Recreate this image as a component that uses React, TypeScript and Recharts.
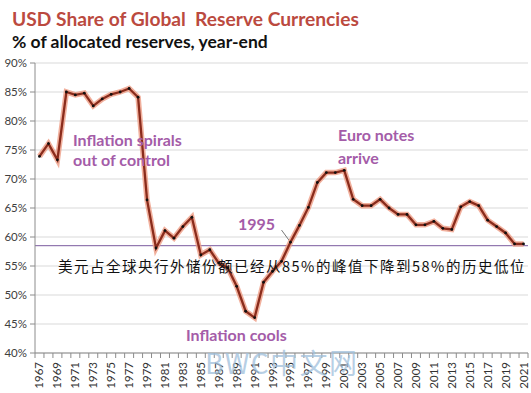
import { LineChart, Line, XAxis, YAxis, CartesianGrid, ReferenceLine } from 'recharts';

// year-end categories
const years = [
  '1967', '1968', '1969', '1970', '1971', '1972', '1973', '1974', '1975', '1976', '1977',
  '1978', '1979', '1980', '1981', '1982', '1983', '1984', '1985', '1986', '1987', '1988',
  '1989', '1990', '1991', '1992', '1993', '1994', '1995', '1996', '1997', '1998', '1999',
  '2000', '2001', '2002', '2003', '2004', '2005', '2006', '2007', '2008', '2009', '2010',
  '2011', '2012', '2013', '2014', '2015', '2016', '2017', '2018', '2019', '2020', '2021',
];

// USD share of allocated reserves, %
const usdShare = [
  73.9, 76.1, 73.3, 85.0, 84.5, 84.8, 82.6, 83.8, 84.6, 85.0, 85.6,
  84.1, 66.4, 58.1, 61.1, 59.8, 61.8, 63.4, 56.9, 57.8, 55.5, 54.7,
  51.5, 47.2, 46.1, 52.2, 54.1, 55.8, 59.1, 62.0, 65.1, 69.4, 71.1,
  71.1, 71.5, 66.5, 65.4, 65.4, 66.5, 65.0, 63.9, 63.9, 62.1, 62.1,
  62.7, 61.5, 61.3, 65.2, 66.1, 65.4, 62.9, 61.8, 60.7, 58.8, 58.8,
];

const yTicks = [40, 45, 50, 55, 60, 65, 70, 75, 80, 85, 90];
const historicLow = 58.5;

const data = years.map((year, i) => ({ year, share: usdShare[i] }));

const purple = '#a45ca8';

function YearTick(props: any) {
  const { x, y, payload, index } = props;
  const half = 4.48;
  const ty = y + 9;
  return (
    <g>
      <line x1={x - half} x2={x - half} y1={y} y2={y + 5} stroke="#8c8c8c" />
      {index === years.length - 1 && (
        <line x1={x + half} x2={x + half} y1={y} y2={y + 5} stroke="#8c8c8c" />
      )}
      {index % 2 === 0 && (
        <text
          x={x}
          y={ty}
          transform={`rotate(-90 ${x} ${ty})`}
          textAnchor="end"
          dy="0.35em"
          fontSize={11.5}
          fontFamily="Lato"
          fill="#333"
        >
          {payload.value}
        </text>
      )}
    </g>
  );
}

export default function App() {
  return (
    <div
      style={{
        position: 'absolute',
        left: 0,
        top: 0,
        width: 531,
        height: 393,
        background: '#fff',
        fontFamily: 'Lato',
      }}
    >
      <LineChart width={531} height={393} data={data} margin={{ top: 63, right: 3, left: 0, bottom: 0 }}>
        <CartesianGrid vertical={false} stroke="#d9d9d9" />
        <XAxis
          dataKey="year"
          interval={0}
          height={40}
          padding={{ left: 4.48, right: 4.48 }}
          tickLine={false}
          tickSize={0}
          tickMargin={0}
          stroke="#8c8c8c"
          tick={<YearTick />}
        />
        <YAxis
          domain={[40, 90]}
          ticks={yTicks}
          width={35}
          tickSize={5}
          tickMargin={3}
          stroke="#8c8c8c"
          tick={{ fontSize: 11.5, fill: '#404040', fontFamily: 'Lato' }}
          tickFormatter={(v: number) => `${v}%`}
        />
        <ReferenceLine y={historicLow} stroke="#7b5b9e" strokeWidth={1} />
        <ReferenceLine
          segment={[
            { x: '1994', y: 61.2 },
            { x: '1995', y: 59.1 },
          ]}
          stroke="#555"
          strokeWidth={0.8}
        />
        <Line
          dataKey="share"
          stroke="#ee9c84"
          strokeWidth={5.5}
          strokeOpacity={0.8}
          dot={false}
          activeDot={false}
          isAnimationActive={false}
        />
        <Line
          dataKey="share"
          stroke="#8a2c1c"
          strokeWidth={2.3}
          dot={{ r: 1.4, fill: '#111', stroke: 'none' }}
          activeDot={false}
          isAnimationActive={false}
        />
      </LineChart>
      <svg
        width={531}
        height={393}
        style={{ position: 'absolute', left: 0, top: 0, pointerEvents: 'none' }}
      >
        <text x={12} y={26} fontSize={19.2} fontWeight="bold" fill="#bb4a3f">
          USD Share of Global&#160; Reserve Currencies
        </text>
        <text x={12} y={48} fontSize={17.5} fontWeight="bold" fill="#111">
          % of allocated reserves, year-end
        </text>
        <g fontSize={16} fontWeight="bold" fill={purple}>
          <text x={73} y={146}>Inflation spirals</text>
          <text x={73} y={166}>out of control</text>
          <text x={338} y={141}>Euro notes</text>
          <text x={338} y={164}>arrive</text>
          <text x={238} y={230}>1995</text>
          <text x={186} y={341}>Inflation cools</text>
        </g>
        <text
          x={58}
          y={272}
          fontSize={14.5}
          letterSpacing={1.5}
          fontFamily="Noto Sans CJK SC"
          fill="#111"
        >
          美元占全球央行外储份额已经从85%的峰值下降到58%的历史低位
        </text>
        <text
          x={205}
          y={374}
          fontSize={28}
          letterSpacing={1.5}
          fontFamily="Noto Sans CJK SC"
          fill="#9fc0dc"
          fillOpacity={0.75}
        >
          BWC中文网
        </text>
      </svg>
    </div>
  );
}
